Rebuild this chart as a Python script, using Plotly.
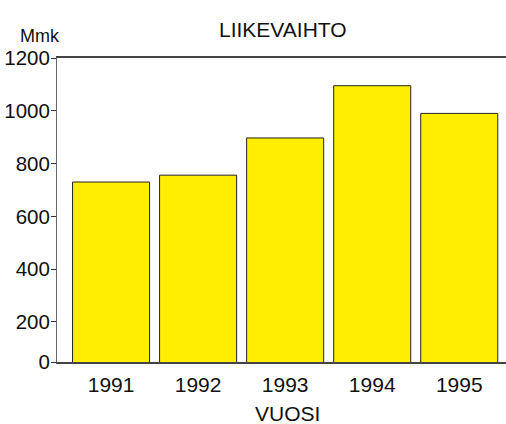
import plotly.graph_objects as go

years = [1991, 1992, 1993, 1994, 1995]
revenue = [730, 756, 897, 1095, 990]
y_tick_vals = [48, 200, 400, 600, 800, 1000, 1200]
y_tick_text = ["0", "200", "400", "600", "800", "1000", "1200"]
title_text = "LIIKEVAIHTO"
y_unit = "Mmk"
x_title = "VUOSI"

FONT = "Liberation Sans, Arial, sans-serif"
FW, FH = 506, 424
L, R, T, B = 57.3, 506.0, 58.3, 361.7
PW, PH = R - L, B - T


def px_x(p):
    return (p - L) / PW


def px_y(p):
    return (B - p) / PH


fig = go.Figure()
fig.add_trace(go.Bar(
    x=years, y=revenue, width=0.885,
    marker=dict(color="#FFEE00", line=dict(color="#222222", width=1)),
    hoverinfo="x+y",
))

fig.update_layout(
    width=FW, height=FH,
    margin=dict(l=L, r=FW - R, t=T, b=FH - B, pad=0, autoexpand=False),
    paper_bgcolor="white", plot_bgcolor="white",
    showlegend=False,
    font=dict(family=FONT, size=21, color="#111111"),
    xaxis=dict(
        range=[1990.379, 1995.537], tickvals=years, ticktext=[str(y) for y in years],
        showgrid=False, zeroline=False, showline=True, linecolor="#444444", linewidth=1.5,
        mirror=True, ticks="", tickfont=dict(size=21), automargin=False,
        ticklabelstandoff=3,
    ),
    yaxis=dict(
        range=[48, 1200], tickvals=y_tick_vals, ticktext=y_tick_text,
        showgrid=False, zeroline=False, showline=True, linecolor="#666666", linewidth=1,
        ticks="outside", ticklen=5, tickcolor="#333333", tickwidth=1, tickfont=dict(size=20.5),
        automargin=False, ticklabelstandoff=-3,
    ),
    annotations=[
        dict(text=title_text, xref="paper", yref="paper", x=px_x(283.5), y=px_y(30),
             xanchor="center", yanchor="middle", showarrow=False, font=dict(size=21)),
        dict(text=y_unit, xref="paper", yref="paper", x=px_x(40.5), y=px_y(36),
             xanchor="center", yanchor="middle", showarrow=False, font=dict(size=18)),
        dict(text=x_title, xref="paper", yref="paper", x=px_x(288), y=px_y(413),
             xanchor="center", yanchor="middle", showarrow=False, font=dict(size=21)),
    ],
)

fig.write_html(
    "out.html",
    config={"displayModeBar": False},
    post_script="document.body.style.margin='0';document.body.style.overflow='hidden';",
)
